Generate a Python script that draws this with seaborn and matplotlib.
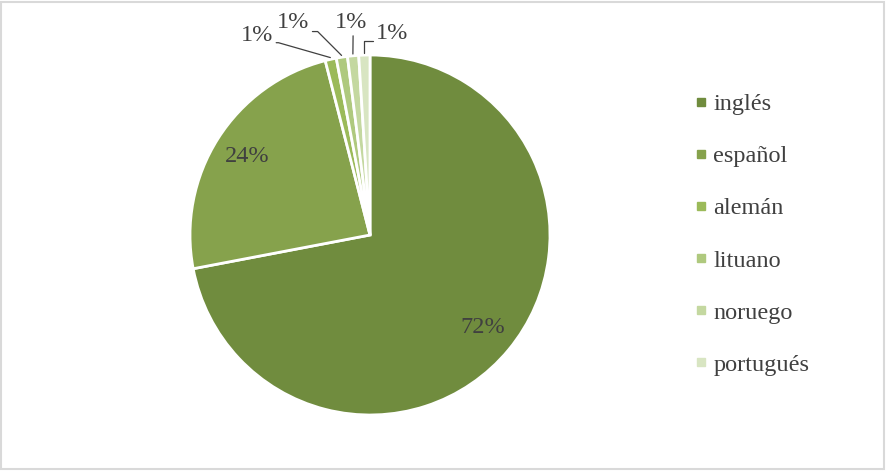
import numpy as np
import matplotlib
matplotlib.use('Agg')
import matplotlib.pyplot as plt
import seaborn as sns
from matplotlib.lines import Line2D
from matplotlib.patches import Rectangle

# datos del grafico
idiomas = ['inglés', 'español', 'alemán', 'lituano', 'noruego', 'portugués']
porcentajes = [72, 24, 1, 1, 1, 1]
colores = ['#708C3E', '#86A24C', '#9BBA59', '#AFC97E', '#C4D8A0', '#D8E5C2']

sns.set_theme(style='white')
plt.rcParams['font.family'] = ['Liberation Serif', 'DejaVu Serif']
texto = '#404040'
tam = 17.5

fig = plt.figure(figsize=(8.87, 4.72), dpi=100)
ax = fig.add_axes([190 / 887, 57 / 472, 360 / 887, 360 / 472])

wedges, _ = ax.pie(porcentajes, colors=colores, startangle=90, counterclock=False,
                   wedgeprops=dict(edgecolor='white', linewidth=2), radius=1)
ax.set_xlim(-1, 1)
ax.set_ylim(-1, 1)
ax.set_aspect('equal')
ax.axis('off')

# etiquetas dentro de los sectores grandes
for w, p in zip(wedges[:2], porcentajes[:2]):
    ang = np.deg2rad((w.theta1 + w.theta2) / 2)
    ax.text(0.81 * np.cos(ang), 0.81 * np.sin(ang), f'{p}%', ha='center', va='center',
            fontsize=tam, color=texto)

# etiquetas con lineas guia para los sectores pequenos
offsets = [(-53, 16), (-35, 24), (-1, 23), (20, 14)]
conexiones = [
    dict(connectionstyle='angle,angleA=0,angleB=164,rad=0', relpos=(1.0, 0.15)),
    dict(connectionstyle='angle,angleA=0,angleB=135,rad=0', relpos=(1.0, 0.05)),
    dict(connectionstyle='arc3', relpos=(0.55, 0.0)),
    dict(connectionstyle='angle,angleA=180,angleB=90,rad=0', relpos=(0.0, 0.15)),
]
for w, p, off, con in zip(wedges[2:], porcentajes[2:], offsets, conexiones):
    ang = np.deg2rad((w.theta1 + w.theta2) / 2)
    xy = (1.01 * np.cos(ang), 1.01 * np.sin(ang))
    ax.annotate(f'{p}%', xy=xy, xytext=off, textcoords='offset points',
                ha='center', va='center', fontsize=tam, color=texto,
                arrowprops=dict(arrowstyle='-', color=texto, lw=0.9,
                                shrinkA=0, shrinkB=0, **con),
                annotation_clip=False)

handles = [Line2D([0], [0], marker='s', linestyle='none', markersize=5.5,
                  markerfacecolor=c, markeredgecolor=c) for c in colores]
fig.legend(handles, idiomas, loc='upper left', bbox_to_anchor=(683 / 887, 1 - 81 / 472),
           frameon=False, fontsize=tam, labelcolor=texto, handlelength=0.45,
           handletextpad=0.3, labelspacing=1.24, borderpad=0)

fig.patches.append(Rectangle((1.5 / 887, 3.5 / 472), 883 / 887, 467 / 472,
                             transform=fig.transFigure, fill=False,
                             edgecolor='#D9D9D9', linewidth=1.5))

fig.savefig('out.png', dpi=100)
